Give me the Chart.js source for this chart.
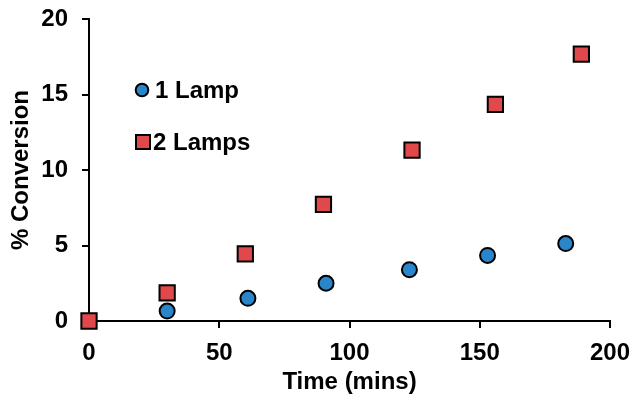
<!DOCTYPE html>
<html><head><meta charset="utf-8">
<script src="https://cdn.jsdelivr.net/npm/chart.js@4/dist/chart.umd.min.js"></script>
<style>html,body{margin:0;padding:0;background:#fff}#wrap{width:639px;height:404px;position:relative}</style>
</head><body><div id="wrap"><canvas id="c" width="639" height="404"></canvas></div>
<script>
const seriesNames = ["1 Lamp", "2 Lamps"];
const time1 = [30, 61, 91, 123, 153, 183];
const conv1 = [0.66, 1.5, 2.5, 3.4, 4.34, 5.13];
const time2 = [0, 30, 60, 90, 124, 156, 189];
const conv2 = [0, 1.87, 4.44, 7.73, 11.32, 14.35, 17.67];
const xTitle = "Time (mins)";
const yTitle = "% Conversion";

const BLUE = "#2a86cb", RED = "#e0484b";
const FONT = "'Liberation Sans', Arial, sans-serif";
const FS = 24;

const legendPlugin = {
  id: 'inlegend',
  afterDraw(chart) {
    const ctx = chart.ctx;
    ctx.save();
    ctx.lineWidth = 2; ctx.strokeStyle = '#000';
    ctx.beginPath(); ctx.fillStyle = BLUE; ctx.arc(142, 90, 6.3, 0, Math.PI*2); ctx.fill(); ctx.stroke();
    ctx.fillStyle = RED; ctx.beginPath(); ctx.rect(136, 135, 14, 14); ctx.fill(); ctx.stroke();
    ctx.fillStyle = '#000'; ctx.font = "bold " + FS + "px " + FONT; ctx.textBaseline = 'middle';
    ctx.fillText(seriesNames[0], 155, 91);
    ctx.fillText(seriesNames[1], 153, 143);
    ctx.restore();
  }
};

new Chart(document.getElementById('c'), {
  type: 'scatter',
  data: {
    datasets: [
      { label: seriesNames[1], data: time2.map((t,i)=>({x:t,y:conv2[i]})), pointStyle:'rect', pointRadius:10.8, pointHoverRadius:10.8, backgroundColor:RED, borderColor:'#000', borderWidth:2, clip:false },
      { label: seriesNames[0], data: time1.map((t,i)=>({x:t,y:conv1[i]})), pointStyle:'circle', pointRadius:7.5, pointHoverRadius:7.5, backgroundColor:BLUE, borderColor:'#000', borderWidth:2, clip:false }
    ]
  },
  options: {
    responsive:false, animation:false, devicePixelRatio:1,
    layout:{padding:{left:0,right:29,top:19,bottom:0}},
    plugins:{legend:{display:false}, tooltip:{enabled:false}},
    scales:{
      x:{ min:0, max:200, ticks:{stepSize:50, color:'#000', font:{family:FONT, size:FS, weight:'bold'}, padding:11},
          grid:{drawOnChartArea:false, color:'#000', lineWidth:2, tickLength:7, tickWidth:2},
          border:{color:'#000', width:2},
          title:{display:true, text:xTitle, color:'#000', font:{family:FONT,size:FS,weight:'bold'}, padding:{top:0,bottom:7}},
          afterFit(s){ s.height = 83; s.paddingLeft = 0; s.paddingRight = 0; } },
      y:{ min:0, max:20, ticks:{stepSize:5, color:'#000', font:{family:FONT, size:FS, weight:'bold'}, padding:14},
          grid:{drawOnChartArea:false, color:'#000', lineWidth:2, tickLength:7, tickWidth:2},
          border:{color:'#000', width:2},
          title:{display:true, text:yTitle, color:'#000', font:{family:FONT,size:FS,weight:'bold'}, padding:{top:7,bottom:4}},
          afterFit(s){ s.width = 89; s.paddingTop = 0; s.paddingBottom = 0; } }
    }
  },
  plugins:[legendPlugin]
});
</script></body></html>
